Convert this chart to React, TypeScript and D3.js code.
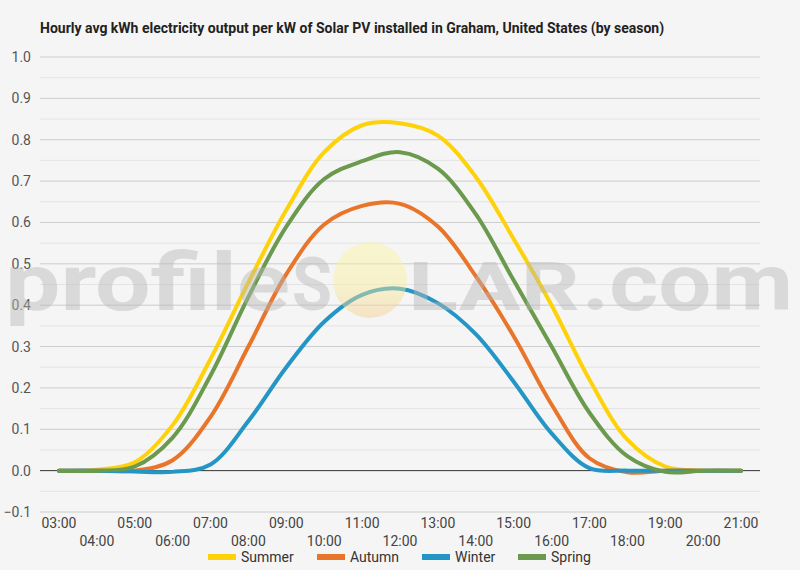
import { useEffect, useRef } from 'react';
import * as d3 from 'd3';

const hours = [
    '03:00', '04:00', '05:00', '06:00', '07:00', '08:00', '09:00', '10:00', '11:00', '12:00',
    '13:00', '14:00', '15:00', '16:00', '17:00', '18:00', '19:00', '20:00', '21:00'
];

const summer = [0, 0.002, 0.02, 0.11, 0.27, 0.455, 0.63, 0.77, 0.835, 0.84, 0.81, 0.71, 0.56, 0.40, 0.22, 0.075, 0.01, 0, 0];
const autumn = [0, 0, 0, 0.025, 0.13, 0.30, 0.475, 0.595, 0.64, 0.645, 0.59, 0.47, 0.325, 0.16, 0.03, -0.004, 0, 0, 0];
const winter = [0, 0, -0.002, -0.003, 0.015, 0.12, 0.25, 0.36, 0.425, 0.44, 0.405, 0.33, 0.215, 0.09, 0.006, 0, 0, 0, 0];
const spring = [0, 0, 0.01, 0.08, 0.23, 0.42, 0.59, 0.705, 0.748, 0.77, 0.73, 0.62, 0.46, 0.30, 0.14, 0.035, -0.003, 0, 0];

const seasons = ['Summer', 'Autumn', 'Winter', 'Spring'];
const seasonValues = [summer, autumn, winter, spring];
const seasonColors = ['#fdd20a', '#e8752a', '#2396c6', '#6b9a4e'];

const yTicks = [-0.1, 0, 0.1, 0.2, 0.3, 0.4, 0.5, 0.6, 0.7, 0.8, 0.9, 1.0];
const yMinorTicks = [-0.05, 0.05, 0.15, 0.25, 0.35, 0.45, 0.55, 0.65, 0.75, 0.85, 0.95];

const title = 'Hourly avg kWh electricity output per kW of Solar PV installed in Graham, United States (by season)';

const width = 800;
const height = 570;
const margin = { top: 57, right: 40, bottom: 58, left: 40 };
const font = 'Roboto, "Noto Sans", sans-serif';

const SolarChart = () => {
    const svgRef = useRef<SVGSVGElement>(null);

    useEffect(() => {
        if (!svgRef.current) return;

        const svg = d3.select(svgRef.current);
        svg.selectAll('*').remove();

        const x = d3.scalePoint<string>()
            .domain(hours)
            .range([margin.left, width - margin.right])
            .padding(0.5);

        const y = d3.scaleLinear()
            .domain([-0.1, 1.0])
            .range([height - margin.bottom, margin.top]);

        // background
        svg.append('rect')
            .attr('width', width)
            .attr('height', height)
            .attr('fill', '#f5f5f5');

        // title
        svg.append('text')
            .attr('x', 40)
            .attr('y', 33)
            .style('font-family', font)
            .style('font-size', '14px')
            .style('font-weight', 700)
            .attr('fill', '#222')
            .text(title);

        // grid lines
        svg.append('g')
            .selectAll('line')
            .data(yMinorTicks)
            .join('line')
            .attr('x1', margin.left)
            .attr('x2', width - margin.right)
            .attr('y1', d => y(d))
            .attr('y2', d => y(d))
            .attr('stroke', '#e4e4e4')
            .attr('stroke-width', 1);

        svg.append('g')
            .selectAll('line')
            .data(yTicks)
            .join('line')
            .attr('x1', margin.left)
            .attr('x2', width - margin.right)
            .attr('y1', d => y(d))
            .attr('y2', d => y(d))
            .attr('stroke', d => (d === 0 ? '#333' : '#cccccc'))
            .attr('stroke-width', 1);

        // y labels
        svg.append('g')
            .selectAll('text')
            .data(yTicks)
            .join('text')
            .attr('x', 31)
            .attr('y', d => y(d) + 5)
            .attr('text-anchor', 'end')
            .style('font-family', font)
            .style('font-size', '14px')
            .attr('fill', '#555')
            .text(d => d3.format('.1f')(d));

        // x labels, staggered in two rows
        svg.append('g')
            .selectAll('text')
            .data(hours)
            .join('text')
            .attr('x', d => x(d) as number)
            .attr('y', (d, i) => (i % 2 === 0 ? 528 : 546))
            .attr('text-anchor', 'middle')
            .style('font-family', font)
            .style('font-size', '14px')
            .attr('fill', '#444')
            .text(d => d);

        // series lines
        const line = d3.line<number>()
            .x((d, i) => x(hours[i]) as number)
            .y(d => y(d))
            .curve(d3.curveCatmullRom.alpha(0.5));

        svg.append('g')
            .selectAll('path')
            .data(seasonValues)
            .join('path')
            .attr('fill', 'none')
            .attr('stroke', (d, i) => seasonColors[i])
            .attr('stroke-width', 4)
            .attr('stroke-linecap', 'round')
            .attr('stroke-linejoin', 'round')
            .attr('d', d => line(d));

        // watermark overlay
        const defs = svg.append('defs');
        const grad = defs.append('linearGradient')
            .attr('id', 'sunGrad')
            .attr('x1', 0).attr('y1', 0)
            .attr('x2', 0).attr('y2', 1);
        grad.append('stop').attr('offset', '0%').attr('stop-color', '#fcf7a0');
        grad.append('stop').attr('offset', '55%').attr('stop-color', '#fbef9c');
        grad.append('stop').attr('offset', '100%').attr('stop-color', '#f6cc8c');

        const wm = svg.append('g').attr('opacity', 0.45).style('pointer-events', 'none');
        wm.append('ellipse')
            .attr('cx', 370)
            .attr('cy', 280)
            .attr('rx', 37)
            .attr('ry', 38)
            .attr('fill', 'url(#sunGrad)');

        const wmParts = [
            { t: 'profile', x: 5, w: 285, size: 80 },
            { t: 'S', x: 292, w: 40, size: 74 },
            { t: 'LAR', x: 408, w: 172, size: 66 },
            { t: '.com', x: 582, w: 211, size: 80 }
        ];
        wm.selectAll('text.wm')
            .data(wmParts)
            .join('text')
            .attr('class', 'wm')
            .attr('x', d => d.x)
            .attr('y', 310)
            .attr('textLength', d => d.w)
            .attr('lengthAdjust', 'spacingAndGlyphs')
            .style('font-family', font)
            .style('font-size', d => d.size + 'px')
            .style('font-weight', 700)
            .attr('fill', '#b8b8b8')
            .text(d => d.t);

        // legend
        const legendX = [208, 317, 422, 518];
        const legend = svg.append('g')
            .selectAll('g')
            .data(seasons)
            .join('g')
            .attr('transform', (d, i) => `translate(${legendX[i]},557)`);
        legend.append('rect')
            .attr('x', 0)
            .attr('y', -3)
            .attr('width', 28)
            .attr('height', 6)
            .attr('fill', (d, i) => seasonColors[i]);
        legend.append('text')
            .attr('x', 33)
            .attr('y', 5)
            .style('font-family', font)
            .style('font-size', '14px')
            .attr('fill', '#333')
            .text(d => d);
    }, []);

    return (
        <svg ref={svgRef} width={width} height={height} role="img"
            aria-label="Hourly average solar PV output by season"></svg>
    );
};

export default function App() {
    return (
        <div style={{ position: 'absolute', left: 0, top: 0 }}>
            <SolarChart />
        </div>
    );
}
